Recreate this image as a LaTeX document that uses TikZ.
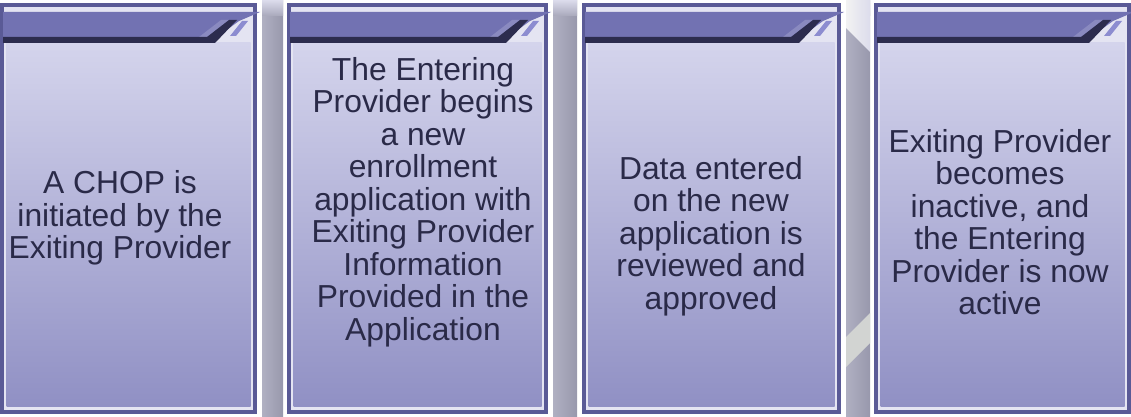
\documentclass[tikz,border=0pt]{standalone}
\usepackage{fontspec}
\setmainfont{Liberation Sans}
\definecolor{frame}{HTML}{5A5A96}
\definecolor{innerline}{HTML}{E4E4F2}
\definecolor{filltop}{HTML}{D4D4EC}
\definecolor{fillbot}{HTML}{9090C4}
\definecolor{head}{HTML}{7272B2}
\definecolor{headdark}{HTML}{2C2C4E}
\definecolor{headedge}{HTML}{8A8AC0}
\definecolor{accent}{HTML}{8C8CD0}
\definecolor{txt}{HTML}{2A2A48}
\definecolor{barleft}{HTML}{B0B0C2}
\definecolor{barright}{HTML}{9898AC}
\definecolor{bartop}{HTML}{DCDCEC}
\definecolor{stripe}{HTML}{D2D4D2}
\tikzset{
  steptext/.style={align=center, text=txt, inner sep=0pt,
    font=\fontsize{31.8}{32.5}\selectfont}
}
% one panel: #1 = left edge, #2 = width
\newcommand\stagepanel[2]{%
  \begin{scope}[shift={(#1,0)}]
    \fill[frame] (0,3.5) rectangle (#2,413.5);
    \fill[innerline] (4,7.5) rectangle (#2-4,409.5);
    \shade[top color=filltop, bottom color=fillbot] (6.5,43) rectangle (#2-6.5,406.5);
    % header band with slanted end
    \fill[head] (3,12) -- (#2+3,12) -- (#2-18,21) -- (#2-40,37) -- (3,37) -- cycle;
    \fill[headedge] (#2-58,37) -- (#2-50,37) -- (#2-28,20) -- (#2-36,20) -- cycle;
    \fill[headdark] (3,37) -- (#2-50,37) -- (#2-28,20) -- (#2-20,20) -- (#2-42,43) -- (3,43) -- cycle;
    \fill[accent] (#2-27,36) -- (#2-21,36) -- (#2-9,21) -- (#2-15,21) -- cycle;
  \end{scope}}
% one separator bar: #1 = left, #2 = right
\newcommand\stagebar[2]{%
  \shade[left color=barleft, right color=barright] (#1,0) rectangle (#2,417);
  \shade[top color=bartop, bottom color=barleft!70!barright] (#1,0) rectangle (#2,16);}
\begin{document}
\begin{tikzpicture}[x=1pt,y=-1pt]
\useasboundingbox (0,0) rectangle (1131,417);
\fill[white] (0,0) rectangle (1131,417);

\stagebar{262}{283}
\stagebar{553}{577}
\stagebar{846}{870}
% light diagonal stripes on the third bar
\shade[left color=white!90!gray, right color=bartop] (846,0) -- (870,0) -- (870,52) -- (846,28) -- cycle;
\fill[stripe] (846,337) -- (870,313) -- (870,343) -- (846,367) -- cycle;

\stagepanel{0}{257}
\stagepanel{287}{261}
\stagepanel{582}{259}
\stagepanel{874}{257}

\node[steptext] (t1) at (120,218) {A CHOP is\\initiated by the\\Exiting Provider};
\node[steptext] (t2) at (423,202) {The Entering\\Provider begins\\a new\\enrollment\\application with\\Exiting Provider\\Information\\Provided in the\\Application};
\node[steptext] (t3) at (711,236) {Data entered\\on the new\\application is\\reviewed and\\approved};
\node[steptext] (t4) at (1000,222) {Exiting Provider\\becomes\\inactive, and\\the Entering\\Provider is now\\active};
\end{tikzpicture}
\end{document}
